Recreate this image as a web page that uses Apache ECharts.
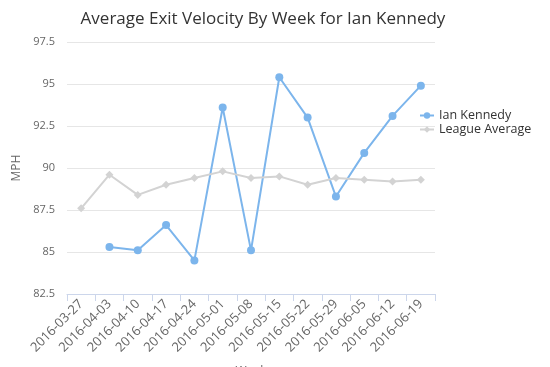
<!DOCTYPE html>
<html><head><meta charset="utf-8">
<script src="https://cdn.jsdelivr.net/npm/echarts@6/dist/echarts.min.js"></script>
<style>html,body{margin:0;padding:0;background:#fff}#c{width:550px;height:367px}</style>
</head><body><div id="c"></div>
<script>
var weeks = ['2016-03-27','2016-04-03','2016-04-10','2016-04-17','2016-04-24','2016-05-01','2016-05-08','2016-05-15','2016-05-22','2016-05-29','2016-06-05','2016-06-12','2016-06-19'];
var kennedy = [null,85.3,85.1,86.6,84.5,93.6,85.1,95.4,93.0,88.3,90.9,93.1,94.9];
var league = [87.6,89.6,88.4,89.0,89.4,89.8,89.4,89.5,89.0,89.4,89.3,89.2,89.3];
var yTicks = [82.5,85,87.5,90,92.5,95,97.5];

var chart = echarts.init(document.getElementById('c'));
chart.setOption({
  animation:false,
  textStyle:{fontFamily:'"Open Sans",sans-serif'},
  title:{text:'Average Exit Velocity By Week for Ian Kennedy',left:258,textAlign:'center',top:6,
    textStyle:{fontSize:17,fontWeight:'normal',color:'#333',fontFamily:'"Open Sans",sans-serif'}},
  legend:{orient:'vertical',left:414,top:104,itemGap:1,itemWidth:14,itemHeight:8,
    textStyle:{fontSize:12.5,color:'#333'},
    data:['Ian Kennedy','League Average']},
  grid:{left:67,right:115,top:42,bottom:73,outerBoundsMode:'none',containLabel:false},
  xAxis:{type:'category',data:weeks,boundaryGap:true,name:'Week',nameLocation:'middle',nameGap:72,
    nameTextStyle:{color:'#666',fontSize:12},
    axisLine:{lineStyle:{color:'#ccd6eb'}},
    axisTick:{show:true,length:7,lineStyle:{color:'#ccd6eb'},alignWithLabel:false},
    axisLabel:{rotate:45,color:'#666',fontSize:13,interval:0,margin:8}},
  yAxis:{type:'value',min:yTicks[0],max:yTicks[yTicks.length-1],interval:2.5,name:'MPH',nameLocation:'middle',nameGap:38,
    nameTextStyle:{color:'#666',fontSize:12},
    axisLine:{show:false},axisTick:{show:false},
    axisLabel:{color:'#666',fontSize:11,margin:12},
    splitLine:{lineStyle:{color:'#e6e6e6'}}},
  series:[
    {name:'Ian Kennedy',type:'line',data:kennedy,symbol:'circle',symbolSize:8,connectNulls:false,
      lineStyle:{color:'#7cb5ec',width:2},itemStyle:{color:'#7cb5ec'}},
    {name:'League Average',type:'line',data:league,symbol:'diamond',symbolSize:8,
      lineStyle:{color:'#d3d3d3',width:2},itemStyle:{color:'#d3d3d3'}}
  ]
});
</script></body></html>
